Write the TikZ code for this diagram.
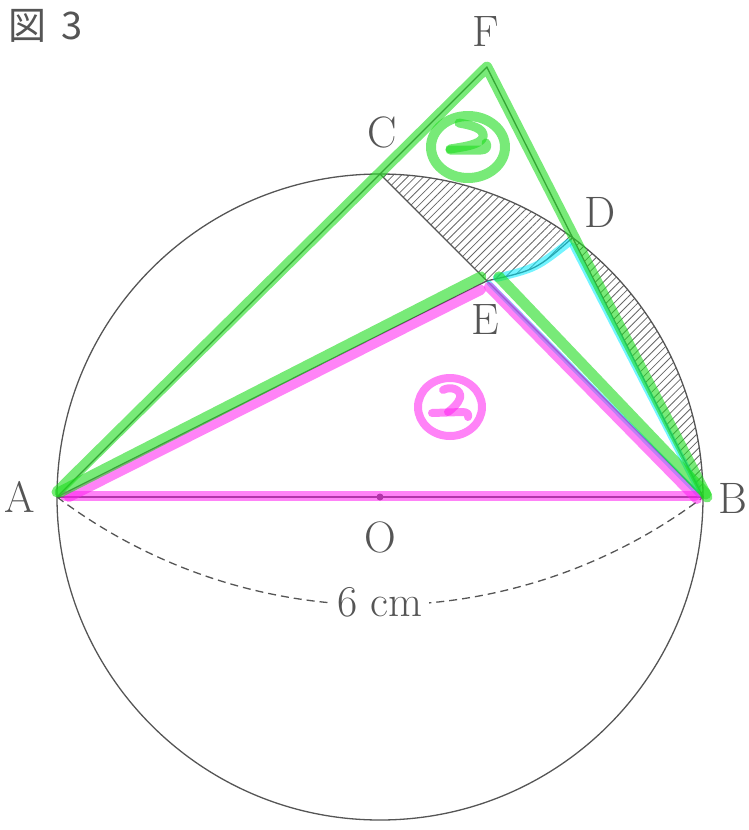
\documentclass[tikz,border=0pt]{standalone}
\usepackage{fontspec}
\newfontfamily\jpfont{Noto Sans CJK JP}
\usetikzlibrary{patterns.meta,calc}
\definecolor{ink}{RGB}{85,85,85}
\definecolor{hlg}{RGB}{30,220,30}
\definecolor{hlm}{RGB}{255,30,240}
\definecolor{hlc}{RGB}{0,235,255}
\begin{document}
\begin{tikzpicture}[x=1pt,y={(0pt,-1pt)},
  geo/.style={draw=ink, line width=1.3pt},
  hatch/.style={pattern={Lines[angle=45,distance=5.6pt,line width=0.8pt]}, pattern color=ink!90},
  lbl/.style={text=ink, font=\fontsize{44}{48}\selectfont, inner sep=0pt},
  ttl/.style={text=ink, font=\jpfont\fontsize{38}{42}\selectfont, inner sep=0pt},
  hg/.style={draw=hlg, line width=11pt, opacity=0.6, line cap=round, line join=round},
  hm/.style={draw=hlm, line width=10pt, opacity=0.55, line cap=round, line join=round},
  hc/.style={draw=hlc, line width=8pt, opacity=0.55, line cap=round, line join=round}]
\useasboundingbox (0,0) rectangle (749,830);
% geometry
\coordinate (O) at (380,497);
\coordinate (A) at (57,497);
\coordinate (B) at (703,497);
\coordinate (C) at (380,174);
\coordinate (D) at (572.6,237.7);
\coordinate (E) at (intersection of A--D and C--B);
\coordinate (F) at (intersection of A--C and B--D);
\coordinate (K) at (536,270);
% hatched regions
\path[hatch] (C) arc[start angle=-90,end angle=-53.4,radius=323] .. controls (K) .. (E) -- cycle;
\path[hatch] (D) arc[start angle=-53.4,end angle=0,radius=323] -- cycle;
% circle and lines
\draw[geo] (O) circle[radius=323];
\draw[geo] (A) -- (F) -- (B);
\draw[geo] (A) -- (E);
\draw[geo] (C) -- (B);
\draw[geo] (A) -- (B);
\draw[geo] (E) .. controls (K) .. (D);
\fill[ink] (O) circle[radius=3.5];
% dashed dimension arc
\draw[ink, line width=1.3pt, dash pattern=on 8pt off 5pt] (A) arc[start angle=127,end angle=53,radius=537];
\node[lbl, fill=white, inner xsep=6pt, inner ysep=4pt] (len) at (380,602) {6 cm};
% labels
\node[lbl] (lA) at (20,497) {A};
\node[lbl] (lB) at (733,498) {B};
\node[lbl] (lO) at (380,537) {O};
\node[lbl] (lC) at (382,132) {C};
\node[lbl] (lD) at (600,212) {D};
\node[lbl] (lE) at (485,320) {E};
\node[lbl] (lF) at (486,32) {F};
\node[ttl] (title) at (28,26) {図};
\node[ttl] (titlenum) at (72,26) {3};
% highlighter: cyan
\draw[hc] ($(E)+(10,-3)$) .. controls ($(K)+(0,-2)$) .. ($(D)+(-4,5)$);
\draw[hc, line width=6pt] ($(D)+(0,8)$) -- ($(B)+(-5,-8)$);
\draw[hc, line width=5pt] ($(E)+(2,2)$) -- ($(B)+(-4,-2)$);
% highlighter: magenta
\draw[hm] ($(A)+(8,-1)$) -- ($(B)+(-8,-1)$);
\draw[hm] ($(A)+(12,0)$) -- ($(E)+(-6,9)$);
\draw[hm] ($(E)+(2,6)$) -- ($(B)+(-6,2)$);
\draw[hm, line width=8pt] (450,407) ellipse[x radius=32, y radius=29];
\draw[hm, line width=8pt] (443,390) .. controls (450,386) and (462,389) .. (460,398) .. controls (458,404) and (452,409) .. (448,412);
\draw[hm, line width=8pt] (432,413) -- (462,412) .. controls (467,412) and (469,414) .. (468,417);
% highlighter: green
\draw[hg] ($(A)+(0,-5)$) -- (F) -- ($(B)+(4,0)$);
\draw[hg] ($(A)+(3,-5)$) -- ($(E)+(-6,-4)$);
\draw[hg] ($(E)+(12,-4)$) -- ($(B)+(3,-3)$);
\draw[hg, line width=10pt] (468,147) ellipse[x radius=37, y radius=31];
\draw[hg, line width=9pt] (459,123) .. controls (470,125) and (485,128) .. (483,137) .. controls (481,145) and (462,147) .. (450,149);
\draw[hg, line width=9pt] (450,150) -- (481,150) .. controls (486,150) and (488,147) .. (486,143);
\end{tikzpicture}
\end{document}
